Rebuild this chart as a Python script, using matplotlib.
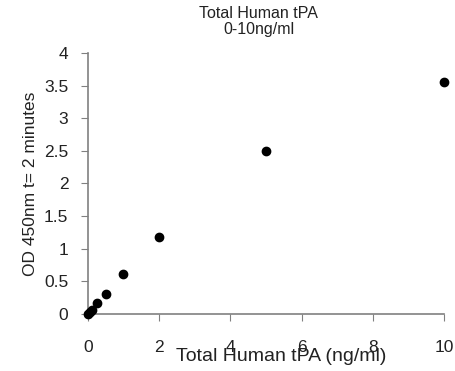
import matplotlib.pyplot as plt

plt.rcParams['font.family'] = ['Liberation Sans', 'DejaVu Sans']

# Standard curve data (ng/ml vs OD)
conc = [0, 0.0625, 0.125, 0.25, 0.5, 1, 2, 5, 10]
od = [0.0, 0.03, 0.06, 0.17, 0.30, 0.61, 1.18, 2.50, 3.55]

xticks = [0, 2, 4, 6, 8, 10]
yticks = [0, 0.5, 1, 1.5, 2, 2.5, 3, 3.5, 4]
ytick_labels = ['0', '0.5', '1', '1.5', '2', '2.5', '3', '3.5', '4']

fig = plt.figure(figsize=(4.55, 3.71), dpi=100)
ax = fig.add_axes([0.193, 0.154, 0.783, 0.703])

ax.plot(conc, od, 'o', color='black', markersize=6, clip_on=False, zorder=3)

ax.set_xlim(0, 10)
ax.set_ylim(0, 4)
ax.set_xticks(xticks)
ax.set_yticks(yticks)
ax.set_yticklabels(ytick_labels)

for s in ['top', 'right']:
    ax.spines[s].set_visible(False)
for s in ['left', 'bottom']:
    ax.spines[s].set_color('#808080')
    ax.spines[s].set_linewidth(1.2)

ax.tick_params(axis='x', direction='out', length=5, color='#808080',
               labelsize=12.5, pad=14, labelcolor='#222222')
ax.tick_params(axis='y', direction='out', length=5, color='#808080',
               labelsize=12.5, pad=9, labelcolor='#222222')

# excel put the axis title a bit off-centre, overlapping the tick labels
ax.set_xlabel('Total Human tPA (ng/ml)', fontsize=14, color='#222222')
ax.xaxis.set_label_coords(0.542, -0.13)
ax.set_ylabel('OD 450nm t= 2 minutes', fontsize=12.5, labelpad=4, color='#222222')
ax.set_title('Total Human tPA\n0-10ng/ml', fontsize=11.5, pad=14, color='#222222',
             linespacing=1.05, x=0.48)

fig.savefig('out.png', dpi=100)
